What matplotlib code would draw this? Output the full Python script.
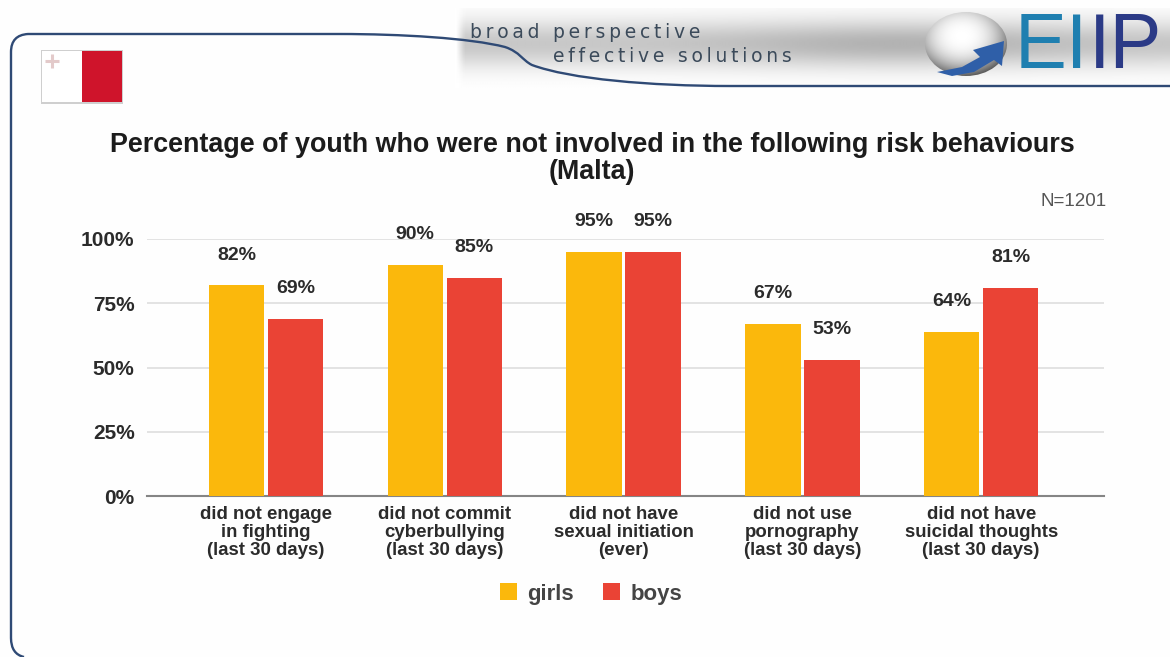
import numpy as np
import matplotlib
matplotlib.use("Agg")
import matplotlib.pyplot as plt
from matplotlib.patches import Rectangle, PathPatch, Polygon, Ellipse
from matplotlib.path import Path

categories = [
    "did not engage\nin fighting\n(last 30 days)",
    "did not commit\ncyberbullying\n(last 30 days)",
    "did not have\nsexual initiation\n(ever)",
    "did not use\npornography\n(last 30 days)",
    "did not have\nsuicidal thoughts\n(last 30 days)",
]
girls = [82, 90, 95, 67, 64]
boys = [69, 85, 95, 53, 81]
yticks = [0, 25, 50, 75, 100]

GIRLS_COLOR = "#fbb80c"
BOYS_COLOR = "#ea4335"
TEXT_COLOR = "#2b2b2b"
NAVY = "#2f4a75"
TEAL = "#1f7fb0"
INDIGO = "#2b3a86"

plt.rcParams["font.family"] = ["Liberation Sans", "DejaVu Sans"]

fig = plt.figure(figsize=(11.7, 6.57), dpi=100, facecolor="#fefefe")

# Slide furniture lives on a full-figure axes in pixel units
deco = fig.add_axes([0, 0, 1, 1], zorder=0)
deco.axis("off")

# Header band: grey in the middle, fading out at top, bottom and left edge
yy = np.linspace(0, 1, 80)
xx = np.linspace(0, 1, 300)
band_v = np.exp(-((yy - 0.45) / 0.30) ** 2)
band_h = np.clip(xx / 0.012, 0, 1) * (0.72 + 0.28 * np.exp(-((xx - 0.62) / 0.22) ** 2))
band = 1 - 0.30 * np.outer(band_v, band_h)
deco.imshow(band, cmap="gray", vmin=0, vmax=1, extent=(455, 1170, 88, 8),
            aspect="auto", zorder=1, interpolation="bilinear")

thin = "\u2009"
deco.text(470, 32, thin.join("broad perspective"), fontsize=13.5, family="DejaVu Sans",
          color="#3b4a5a", va="center", ha="left", zorder=3)
deco.text(553, 57, thin.join("effective solutions"), fontsize=13.5, family="DejaVu Sans",
          color="#3b4a5a", va="center", ha="left", zorder=3)

# Logo: shaded sphere with a rising arrow, then the wordmark
gx, gy = np.meshgrid(np.linspace(-1, 1, 160), np.linspace(-1, 1, 160))
sphere = np.clip(1.0 - 0.38 * np.hypot(gx + 0.1, gy + 0.25) ** 2.5, 0, 1)
sphere_img = deco.imshow(sphere, cmap="gray", vmin=0, vmax=1,
                         extent=(924, 1008, 77, 11), aspect="auto", zorder=2)
sphere_img.set_clip_path(Ellipse((966, 44), 82, 64, transform=deco.transData))
deco.add_patch(Polygon([(937, 72), (962, 67), (980, 57), (973, 50), (1004, 41),
                        (1002, 66), (994, 60), (974, 72), (952, 76)],
                       closed=True, facecolor="#2f5fa8", edgecolor="none", zorder=3))

wordmark = {"fontsize": 56, "family": "Liberation Sans", "va": "center", "zorder": 3}
deco.text(1015, 47, "EI", color=TEAL, ha="left", **wordmark)
deco.text(1089, 47, "IP", color=INDIGO, ha="left", **wordmark)

# Rounded frame that swoops under the header band
frame = Path(
    [(24, 657), (11, 654), (11, 638), (11, 52), (11, 35), (28, 34),
     (340, 34), (400, 34), (470, 38), (505, 47),
     (520, 52), (522, 60), (532, 65), (570, 79), (650, 86), (730, 86), (1170, 86)],
    [Path.MOVETO, Path.CURVE3, Path.CURVE3, Path.LINETO, Path.CURVE3, Path.CURVE3,
     Path.LINETO, Path.CURVE4, Path.CURVE4, Path.CURVE4,
     Path.CURVE4, Path.CURVE4, Path.CURVE4, Path.CURVE4, Path.CURVE4, Path.CURVE4, Path.LINETO],
)
deco.add_patch(PathPatch(frame, facecolor="none", edgecolor=NAVY, lw=1.7, zorder=4))

# Flag of Malta with a soft shadow
deco.add_patch(Rectangle((41, 50), 82, 54, facecolor="#cfcfcf", edgecolor="none", zorder=4))
deco.add_patch(Rectangle((42, 51), 40, 51, facecolor="white", edgecolor="none", zorder=5))
deco.add_patch(Rectangle((82, 51), 40, 51, facecolor="#cf142b", edgecolor="none", zorder=5))
deco.plot([52, 52], [54, 68], color="#e3caca", lw=2.2, zorder=6, solid_capstyle="butt")
deco.plot([45, 59], [61, 61], color="#e3caca", lw=2.2, zorder=6, solid_capstyle="butt")

deco.set_xlim(0, 1170)
deco.set_ylim(657, 0)

deco.text(592, 145, "Percentage of youth who were not involved in the following risk behaviours",
          fontsize=19.4, fontweight="bold", color="#1c1c1c", ha="center", va="center", zorder=5)
deco.text(592, 172, "(Malta)", fontsize=19.4, fontweight="bold", color="#1c1c1c",
          ha="center", va="center", zorder=5)
deco.text(1107, 201, "N=1201", fontsize=13.5, color="#555555", ha="right", va="center", zorder=5)

# Grouped bars
ax = fig.add_axes([147 / 1170, (657 - 496) / 657, 957 / 1170, 257 / 657], zorder=2)
ax.patch.set_alpha(0)
x = np.arange(len(categories))
bar_w = 0.31
offset = 0.165
bars_g = ax.bar(x - offset, girls, bar_w, color=GIRLS_COLOR, label="girls", zorder=3)
bars_b = ax.bar(x + offset, boys, bar_w, color=BOYS_COLOR, label="boys", zorder=3)

for bars, values in ((bars_g, girls), (bars_b, boys)):
    for bar, v in zip(bars, values):
        ax.annotate(f"{v}%", (bar.get_x() + bar.get_width() / 2, v),
                    xytext=(0, 21.5), textcoords="offset points",
                    ha="center", va="center", fontsize=14, fontweight="bold",
                    color=TEXT_COLOR, annotation_clip=False)

ax.set_xlim(-0.665, 4.687)
ax.set_ylim(0, 100)
ax.set_yticks(yticks)
ax.set_yticklabels([f"{t}%" for t in yticks], fontsize=15, fontweight="bold", color=TEXT_COLOR)
ax.set_xticks(x)
ax.set_xticklabels(categories, fontsize=13.4, fontweight="bold", color=TEXT_COLOR, linespacing=1.06)
ax.tick_params(axis="both", length=0)
ax.tick_params(axis="x", pad=7.5)
ax.tick_params(axis="y", pad=9)
ax.grid(axis="y", color="#dcdcdc", lw=1.1, zorder=0)
ax.set_axisbelow(True)
for s in ("top", "right", "left"):
    ax.spines[s].set_visible(False)
ax.spines["bottom"].set_color("#858585")
ax.spines["bottom"].set_linewidth(1.5)

ax.legend(loc="center", bbox_to_anchor=(591 / 1170, (657 - 594) / 657),
          bbox_transform=fig.transFigure, ncol=2, frameon=False,
          handlelength=0.77, handleheight=0.77, handletextpad=0.48, columnspacing=1.3,
          prop={"size": 16, "weight": "bold"}, labelcolor="#444444")

fig.savefig("out.png", dpi=100, facecolor=fig.get_facecolor())
